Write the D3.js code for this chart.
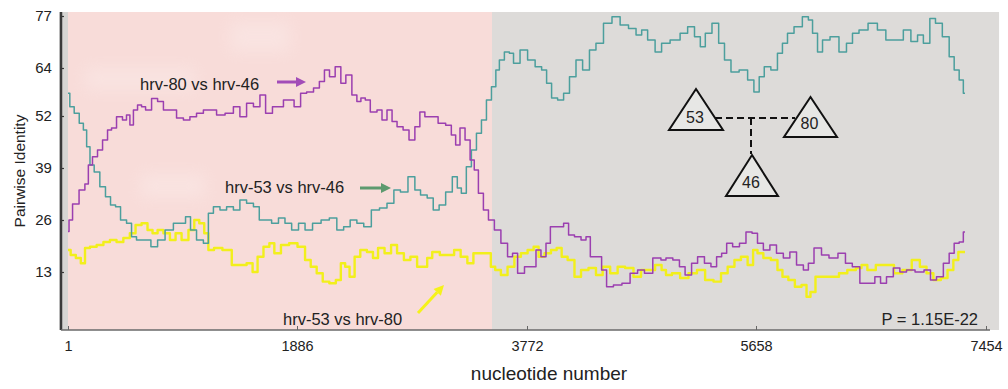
<!DOCTYPE html>
<html>
<head>
<meta charset="utf-8">
<script src="https://cdn.jsdelivr.net/npm/d3@7"></script>
<style>
body { margin: 0; background: #fff; }
svg text { font-family: "Liberation Sans", Arial, sans-serif; fill: #222; }
</style>
</head>
<body>
<div id="chart"></div>
<script>
const w = 1008;
const h = 389;

// axis ticks
const xTicks = [1, 1886, 3772, 5658, 7454];
const yTicks = [13, 26, 39, 52, 64, 77];

// shaded stretches of the genome (nt)
const regionStart = [-57, 1, 3485];
const regionEnd = [1, 3485, 7556];

// hrv-80 vs hrv-46
const p8046Pos = [1,18,59,125,155,182,223,265,306,347,372,429,470,495,526,553,594,619,660,718,
  759,814,866,923,979,1030,1088,1143,1195,1253,1335,1390,1442,1500,1555,1607,1648,1720,1829,1895,
  1936,1994,2049,2090,2132,2173,2225,2266,2307,2365,2389,2431,2461,2513,2571,2595,2653,2678,2735,2777,
  2832,2873,2914,2955,3007,3079,3131,3172,3202,3243,3285,3326,3353,3394,3435,3477,3532,3584,3641,3666,
  3724,3779,3831,3861,3913,3944,3985,4053,4094,4135,4191,4243,4273,4314,4366,4407,4448,4520,4588,4654,
  4712,4767,4849,4901,4932,5014,5041,5107,5148,5206,5261,5313,5354,5396,5437,5494,5550,5601,5650,5689,
  5742,5791,5845,5898,5947,6002,6054,6080,6142,6197,6259,6337,6376,6444,6494,6561,6611,6650,6704,6757,
  6806,6861,6939,7001,7040,7095,7147,7186,7225,7264,7290];
const p8046Val = [23.1,26,30,33.5,35,39.75,41.8,43.5,46,48.5,49,51.8,51,52.25,49.75,53.5,54.75,54.3,53.5,56.4,
  55.6,53.5,53.5,51.5,51,51.8,52.7,53.5,53.5,52.25,52.7,54.3,51.8,55.2,54.3,57.25,52.7,54.3,56,54.3,
  57.7,58,59,60.6,63.5,61.8,64.3,60.2,62.25,57.25,55.6,56.5,56,53,53.5,51,53.5,50.6,49.3,48.5,
  46,49.3,53,51.8,51.8,50.2,49.7,47.25,44.75,49,46,41,38.5,32.7,28.5,26,23.5,20.2,16.8,17.7,
  12.7,14.3,14.3,18.5,16.8,20.2,24.3,24.3,25.2,22.25,21.8,21,21.8,16.8,16.8,13.5,9.3,9.75,10.2,12.7,
  13.5,12.7,16.5,16,16.5,16,14.3,12.25,15.2,16.8,15.2,14.3,16.8,17.7,20.2,19.3,20.2,23,22.7,20.2,
  18.5,19.75,17.7,16.5,18,14.75,13.5,15.2,19,17.25,16.5,17.7,15.2,14.3,10.2,10.2,11.8,10.2,11.8,14,
  13,13.5,13,13.5,11,11.8,15.2,17.7,20.2,20.5,23];

// hrv-53 vs hrv-46
const p5346Pos = [1,31,73,114,141,168,196,237,289,330,372,413,454,512,536,594,649,718,759,841,
  896,948,989,1030,1088,1143,1170,1226,1278,1335,1390,1442,1500,1555,1596,1648,1706,1761,1813,1871,
  1926,1978,2049,2118,2184,2241,2296,2348,2406,2461,2530,2595,2653,2708,2760,2832,2873,2925,2982,3024,
  3079,3131,3188,3213,3254,3295,3337,3378,3419,3460,3501,3532,3559,3614,3641,3682,3748,3806,3872,3913,
  3954,3995,4053,4094,4150,4201,4259,4314,4366,4438,4506,4572,4644,4696,4737,4794,4860,4901,5000,5066,
  5124,5179,5220,5261,5330,5371,5426,5478,5560,5618,5663,5703,5742,5806,5845,5884,5924,5986,6054,6080,
  6119,6158,6197,6275,6337,6392,6431,6494,6572,6640,6704,6782,6835,6900,6939,6991,7040,7079,7147,7186,
  7225,7264,7290];
const p5346Val = [57.7,54.3,52.7,50.2,48.5,44.3,39.75,38,34.3,31.8,29.75,29.3,26,25.2,21.8,21,21,19.3,21,23.5,
  25.2,25.2,26.8,23.5,21,20.2,27.7,29.3,28.5,29.3,28.5,31,30.2,29.3,26,26,25.2,26.5,25.2,23.5,
  25.2,23.5,25.2,26,26.5,23.5,24.3,26,25.2,24.3,28.5,29,30.2,33.5,33,36.8,33.5,32.25,31.5,28.5,
  29.75,33,36.8,34,32.7,39.3,43.5,47.7,51,56,59.3,63.5,66,68,67.7,65.2,68.5,66,64.3,63.5,
  60.2,56.5,56,57.7,61.8,66,63.5,68.5,70.2,75.2,76.8,74.75,73.9,72.25,73.5,71,68,70.2,71,72.7,
  74.3,71.8,69.3,72.7,75.2,70.2,66,63,63.5,61,58,61.8,64.3,63.5,67.7,70.2,72.7,74.3,76.8,76,
  72.7,68,71,71.8,68,70.2,72.7,73.5,75.2,73.5,71,71,73.5,70.6,72.25,70.2,76.4,75.2,71.8,66.8,
  63.5,61,57.7];

// hrv-53 vs hrv-80
const p5380Pos = [1,45,86,127,155,209,265,320,372,429,484,536,578,635,676,718,759,814,866,907,
  965,1020,1061,1102,1143,1170,1236,1308,1390,1442,1500,1541,1582,1638,1679,1720,1788,1854,1926,1978,
  2019,2076,2118,2184,2225,2266,2296,2338,2379,2431,2488,2530,2571,2637,2678,2735,2790,2842,2900,2941,
  2966,3024,3090,3147,3202,3254,3312,3353,3408,3460,3491,3532,3584,3641,3696,3748,3806,3847,3888,3944,
  3995,4037,4078,4135,4191,4243,4314,4366,4424,4490,4547,4613,4685,4737,4794,4860,4901,4932,5000,5066,
  5138,5206,5272,5344,5396,5453,5508,5560,5618,5650,5689,5742,5806,5845,5884,5937,5986,6041,6064,6103,
  6142,6210,6275,6337,6405,6470,6494,6561,6626,6704,6767,6835,6913,6962,7017,7069,7134,7173,7225,7251,
  7290];
const p5380Val = [18.5,17.25,16.5,15.2,19,19.3,19.75,20.5,21,20.5,21.5,22.7,24.75,25.2,23.5,22.7,23.5,22.7,21,22.7,
  21,23.5,26,25.2,22.7,18.5,19,18.5,14.75,14.75,15.2,13,16.8,19.3,20.2,17.7,19.75,20.2,19.3,16,
  14.3,12.7,10.6,10.2,11,15.2,14.3,11.8,16.8,18.5,18,16.5,19,17.7,19.75,17.7,16,16.8,14.3,14.3,
  16.5,18,17.25,17.25,18.5,16.8,15.2,17.7,17.7,17.7,14.3,13.5,12.25,14.3,16.8,17.7,18.5,19.3,16.8,17.7,
  18.5,19,16.8,16,11.8,13.5,14,12.25,14.3,12.7,14.3,14,11.8,13.5,13.5,14.75,13.5,12.25,12.7,11.5,
  12.7,13.5,11,10.6,12.7,14.3,16,16.8,14.75,18.5,17.7,16.5,16,13.5,11.8,11,9.3,9.75,6.8,8,
  11.8,11.8,11.8,12.7,13.5,14,14.75,13.5,14.75,14.75,12.7,13.5,16,14.3,12.7,11,11.5,13.5,16,18,
  18];

const regionColors = ["#d6d5d3", "#f8dcd9", "#dddbd9"];
const purple = "#9b3fb0";
const teal = "#4c9f9d";
const yellow = "#f2ef1c";

let svg = d3.select("#chart")
    .append("svg")
    .attr("width", w)
    .attr("height", h);

const x = d3.scaleLinear().domain(xTicks).range([68, 297, 527, 756, 986]);
const y = d3.scaleLinear().domain([-1.5, 78]).range([330, 12]);

// background stretches
svg.append("g").selectAll("rect")
    .data(regionStart)
    .join("rect")
    .attr("x", (d) => x(d))
    .attr("y", y(78))
    .attr("width", (d, i) => x(regionEnd[i]) - x(d))
    .attr("height", y(-1.5) - y(78))
    .attr("fill", (d, i) => regionColors[i]);

// faint ghosts in the pink area
const blur = svg.append("defs").append("filter").attr("id", "blur")
    .attr("x", "-50%").attr("y", "-50%").attr("width", "200%").attr("height", "200%");
blur.append("feGaussianBlur").attr("stdDeviation", 8);
const ghosts = svg.append("g").attr("filter", "url(#blur)").attr("fill", "#fff").attr("opacity", 0.22);
ghosts.append("rect").attr("x", 85).attr("y", 68).attr("width", 110).attr("height", 22);
ghosts.append("rect").attr("x", 230).attr("y", 22).attr("width", 60).attr("height", 30);
ghosts.append("rect").attr("x", 140).attr("y", 174).attr("width", 65).attr("height", 24);

// series
const line = d3.line().curve(d3.curveStep).x((d) => x(d[0])).y((d) => y(d[1]));

function drawSeries(pos, val, color, width){
    svg.append("path")
        .datum(d3.zip(pos, val))
        .attr("fill", "none")
        .attr("stroke", color)
        .attr("stroke-width", width)
        .attr("stroke-linejoin", "round")
        .attr("d", line);
}
drawSeries(p5380Pos, p5380Val, yellow, 2.4);
drawSeries(p5346Pos, p5346Val, teal, 1.5);
drawSeries(p8046Pos, p8046Val, purple, 1.5);

// left axis
const yAxis = svg.append("g")
    .attr("transform", "translate(" + x(-57) + ",0)")
    .call(d3.axisLeft(y).tickValues(yTicks).tickSize(-3).tickPadding(9));
yAxis.select(".domain").remove();
yAxis.selectAll(".tick line").attr("stroke", "#333").attr("stroke-width", 1.2);
yAxis.selectAll("text").style("font-size", "15px").attr("fill", "#222");
svg.append("line")
    .attr("x1", x(-57)).attr("x2", x(-57))
    .attr("y1", y(78)).attr("y2", y(-1.5))
    .attr("stroke", "#3a3a3a").attr("stroke-width", 2.6);

// bottom axis
const xAxis = svg.append("g")
    .attr("transform", "translate(0," + y(-1.5) + ")")
    .call(d3.axisBottom(x).tickValues(xTicks).tickFormat(d3.format("d")).tickSize(-4).tickPadding(11));
xAxis.select(".domain").remove();
xAxis.selectAll(".tick line").attr("stroke", "#666");
xAxis.selectAll("text").style("font-size", "14.5px").attr("fill", "#222");
svg.append("line")
    .attr("x1", x(-57)).attr("x2", 990)
    .attr("y1", y(-1.5)).attr("y2", y(-1.5))
    .attr("stroke", "#6a6a6a").attr("stroke-width", 1.6);

// axis titles
svg.append("text")
    .attr("x", 549).attr("y", 380)
    .attr("text-anchor", "middle")
    .style("font-size", "19px")
    .text("nucleotide number");
svg.append("text")
    .attr("transform", "translate(25,171) rotate(-90)")
    .attr("text-anchor", "middle")
    .style("font-size", "15.5px")
    .text("Pairwise Identity");

// series labels and arrows
function arrow(x1, y1, x2, y2, color){
    const a = Math.atan2(y2 - y1, x2 - x1);
    const len = 10, hw = 5;
    const bx = x2 - len * Math.cos(a), by = y2 - len * Math.sin(a);
    svg.append("line")
        .attr("x1", x1).attr("y1", y1).attr("x2", bx).attr("y2", by)
        .attr("stroke", color).attr("stroke-width", 3);
    svg.append("polygon")
        .attr("points", [
            [x2, y2],
            [bx + hw * Math.sin(a), by - hw * Math.cos(a)],
            [bx - hw * Math.sin(a), by + hw * Math.cos(a)]
        ].map((p) => p.join(",")).join(" "))
        .attr("fill", color);
}
function label(tx, ty, txt){
    svg.append("text").attr("x", tx).attr("y", ty).style("font-size", "16.5px").text(txt);
}
label(140, 90, "hrv-80 vs hrv-46");
arrow(277, 82, 306, 82, "#a24cb8");
label(225, 193, "hrv-53 vs hrv-46");
arrow(360, 188, 391, 188, "#5d9a6f");
label(283, 325, "hrv-53 vs hrv-80");
arrow(418, 313, 444, 285, "#f5f21a");
svg.append("text")
    .attr("x", 978).attr("y", 325)
    .attr("text-anchor", "end")
    .style("font-size", "16.5px")
    .text("P = 1.15E-22");

// tree inset
const tree = svg.append("g");
tree.append("path")
    .attr("d", "M715,118H795M751,118V154")
    .attr("fill", "none")
    .attr("stroke", "#111")
    .attr("stroke-width", 2)
    .attr("stroke-dasharray", "7,4");

function triangle(cx, top, bottom, half, txt, ty){
    tree.append("polygon")
        .attr("points", cx + "," + top + " " + (cx + half) + "," + bottom + " " + (cx - half) + "," + bottom)
        .attr("fill", "#e7e7e5")
        .attr("stroke", "#111")
        .attr("stroke-width", 2)
        .attr("stroke-linejoin", "miter");
    tree.append("text")
        .attr("x", cx - 1).attr("y", ty)
        .attr("text-anchor", "middle")
        .style("font-size", "16px")
        .text(txt);
}
triangle(696, 89, 130, 27, "53", 123);
triangle(810.5, 97, 137, 26.5, "80", 129);
triangle(752, 155, 196, 26, "46", 188);
</script>
</body>
</html>
